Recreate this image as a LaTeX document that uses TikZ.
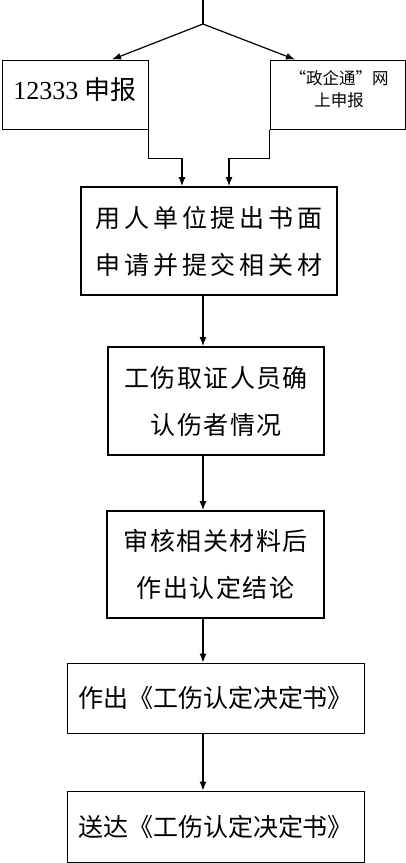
\documentclass[tikz,border=0pt]{standalone}
\usepackage{fontspec}
\setmainfont{Liberation Serif}
\newfontfamily\cjk{Noto Sans CJK SC}
\usetikzlibrary{arrows.meta,calc}
\begin{document}
\begin{tikzpicture}[x=1pt,y=-1pt,
  thinbox/.style={draw,line width=1pt,inner sep=0pt},
  thickbox/.style={draw,line width=1.8pt,inner sep=0pt},
  conn/.style={line width=1.2pt,-{Latex[length=9pt,width=7pt]}},
  plain/.style={line width=1.2pt},
  bigtxt/.style={font=\cjk\fontsize{25}{47}\selectfont,align=center,inner sep=0pt}]
\useasboundingbox (0,0) rectangle (406,863);
% top boxes
\node[thinbox,minimum width=146pt,minimum height=69pt] (lb) at (75,94.5) {};
\node[inner sep=0pt] (lbt) at (75,90) {\fontsize{26}{30}\selectfont 12333 {\cjk 申报}};
\node[thinbox,minimum width=135pt,minimum height=69pt] (rb) at (337.5,94.5) {};
\node[inner sep=0pt,align=center,font=\cjk\fontsize{16.5}{22}\selectfont] (rbt) at (339,89) {“政企通”网\\上申报};
% main chain
\node[thickbox,minimum width=256pt,minimum height=108pt,bigtxt,font=\cjk\fontsize{25}{47}\selectfont\addfontfeatures{LetterSpace=16}] (b3) at (209,241) {用人单位提出书面\\申请并提交相关材};
\node[thickbox,minimum width=216pt,minimum height=108pt,bigtxt,font=\cjk\fontsize{25}{47}\selectfont\addfontfeatures{LetterSpace=6}] (b4) at (216,401) {工伤取证人员确\\认伤者情况};
\node[thickbox,minimum width=217pt,minimum height=107pt,bigtxt,font=\cjk\fontsize{25}{47}\selectfont\addfontfeatures{LetterSpace=6}] (b5) at (215.5,564.5) {审核相关材料后\\作出认定结论};
\node[thinbox,minimum width=297pt,minimum height=70pt,bigtxt] (b6) at (215.5,698) {作出《工伤认定决定书》};
\node[thinbox,minimum width=297pt,minimum height=71pt,bigtxt] (b7) at (215.5,826.5) {送达《工伤认定决定书》};
% connectors
\coordinate (top) at (203,0);
\coordinate (j) at (203,24);
\coordinate (ax) at (203,0);
\draw[plain] (top) -- (j);
\draw[conn] (j) -- ([xshift=37pt]lb.north);
\draw[conn] (j) -- ([xshift=-42.5pt]rb.north);
\draw[conn] (lb.south east) -- ++(0,29) -| ([xshift=-27pt]b3.north);
\draw[conn] (rb.south west) -- ++(0,29) -| ([xshift=20pt]b3.north);
\draw[conn] (b3.south -| ax) -- (b4.north -| ax);
\draw[conn] (b4.south -| ax) -- (b5.north -| ax);
\draw[conn] (b5.south -| ax) -- (b6.north -| ax);
\draw[conn] (b6.south -| ax) -- (b7.north -| ax);
\end{tikzpicture}
\end{document}
